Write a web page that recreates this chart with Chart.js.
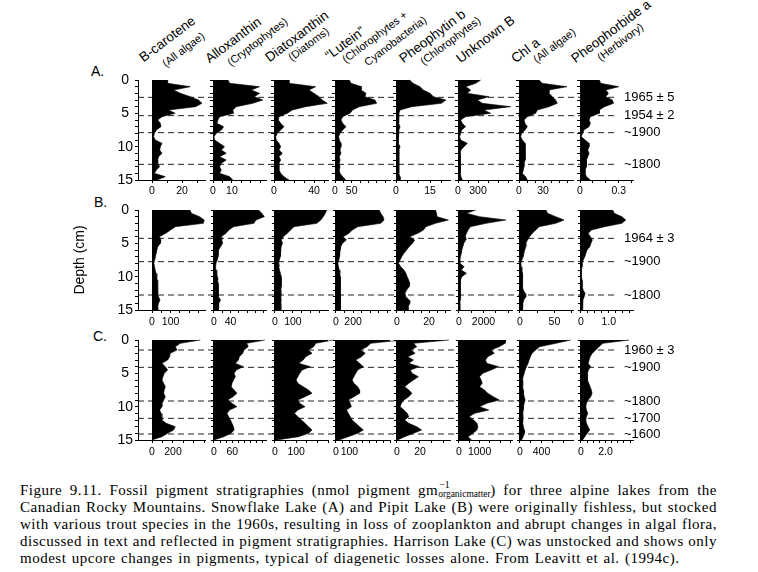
<!DOCTYPE html>
<html>
<head>
<meta charset="utf-8">
<script src="https://cdn.jsdelivr.net/npm/chart.js@4.4.1/dist/chart.umd.min.js"></script>
<style>
body { margin: 0; background: #fff; width: 758px; height: 572px; overflow: hidden; position: relative; font-family: "Liberation Sans", Arial, sans-serif; }
canvas { position: absolute; }
.lbl { position: absolute; white-space: nowrap; line-height: 1; color: #000; }
.rot { transform-origin: 0 100%; transform: rotate(-37deg); }
#caption { position: absolute; left: 20px; top: 482px; width: 697px; font-family: "Liberation Serif", "Times New Roman", serif; font-size: 15px; letter-spacing: 0.5px; line-height: 17px; color: #000; }
#caption div { height: 17px; text-align: justify; text-align-last: justify; white-space: nowrap; }
#caption div.last { text-align-last: left; word-spacing: 1.2px; }
.ss { position: relative; display: inline-block; width: 52px; height: 10px; letter-spacing: 0; }
.ss .sup { position: absolute; left: 1px; top: -5px; font-size: 10px; line-height: 1; }
.ss .sub { position: absolute; left: 0; top: 5px; font-size: 9.5px; line-height: 1; }
</style>
</head>
<body>
<div id="caption">
<div>Figure 9.11. Fossil pigment stratigraphies (nmol pigment gm<span class="ss"><span class="sup">&minus;1</span><span class="sub">organicmatter</span></span>) for three alpine lakes from the</div>
<div>Canadian Rocky Mountains. Snowflake Lake (A) and Pipit Lake (B) were originally fishless, but stocked</div>
<div>with various trout species in the 1960s, resulting in loss of zooplankton and abrupt changes in algal flora,</div>
<div>discussed in text and reflected in pigment stratigraphies. Harrison Lake (C) was unstocked and shows only</div>
<div class="last">modest upcore changes in pigments, typical of diagenetic losses alone. From Leavitt et al. (1994c).</div>
</div>
<script>
// depth (cm) of every sample
const depth = [0, 0.5, 1, 1.5, 2, 2.5, 3, 3.5, 4, 4.5, 5, 5.5, 6, 6.5, 7, 7.5, 8, 8.5, 9, 9.5, 10, 10.5, 11, 11.5, 12, 12.5, 13, 13.5, 14, 14.5, 15];

const pigments = ["B-carotene", "Alloxanthin", "Diatoxanthin", "\u201cLutein\u201d", "Pheophytin b", "Unknown B", "Chl a", "Pheophorbide a"];
const groups = ["(All algae)", "(Cryptophytes)", "(Diatoms)", "(Chlorophytes +", "(Chlorophytes)", "", "(All algae)", "(Herbivory)"];
const groups2 = ["", "", "", "Cyanobacteria)", "", "", "", ""];
const rowNames = ["A.", "B.", "C."];

// A - Snowflake Lake
const aCarotene = [10, 10.4, 25.5, 14.4, 18.9, 25.5, 31, 33.3, 29, 11, 15.5, 6.7, 3.8, 5.6, 6, 2.9, 1.6, 1.1, 2.2, 6.7, 5.6, 5.1, 6.7, 4.4, 3.8, 3.8, 5.1, 2.9, 1.6, 8.9, 3.3];
const aAllox = [7.9, 8.8, 24.6, 20.2, 24.6, 21.9, 26.3, 21, 12.3, 10.5, 10.9, 3.5, 2.6, 2.1, 5.6, 4.4, 1.8, 0.5, 0.9, 3.5, 6.1, 4.4, 7, 3.5, 7, 4.4, 3.5, 4.4, 3.5, 8.8, 10.5];
const aDiato = [15, 15, 41.7, 35, 40, 45, 48.3, 53.3, 31.7, 18.3, 13.3, 5, 4.3, 6.7, 10, 6.7, 3.3, 1.7, 2.3, 5, 6.7, 5, 8.3, 5, 6.7, 5, 5, 5, 6.7, 10, 15];
const aLutein = [43, 48, 80, 78, 93, 90, 120, 125, 73, 53, 45, 23, 18, 23, 33, 23, 15, 11, 13, 18, 18, 15, 18, 13, 15, 13, 15, 13, 15, 23, 33];
const aPheob = [6, 7.5, 10.6, 12, 15, 16.5, 22, 20, 7, 1.8, 1.3, 0.9, 1.3, 1.3, 1.8, 1.3, 0.9, 0.9, 0.9, 1.3, 1.8, 1.3, 1.3, 0.9, 1.3, 1.3, 1.3, 1.3, 1.3, 1.8, 1.8];
const aUnknown = [340, 265, 115, 190, 140, 465, 290, 365, 790, 390, 490, 115, 40, 65, 115, 55, 40, 25, 40, 140, 90, 45, 35, 40, 35, 40, 35, 30, 30, 45, 65];
const aChla = [25, 29, 60, 37.5, 37.5, 41.7, 45.8, 47.9, 37.5, 22.9, 20.8, 10.4, 6.3, 7.5, 10.4, 7.5, 3.3, 2.1, 4.2, 7.5, 8.3, 7.5, 8.3, 7.5, 7.5, 6.3, 6.3, 5.4, 4.2, 8.3, 10.4];
const aPheoa = [0.15, 0.16, 0.30, 0.20, 0.22, 0.20, 0.25, 0.26, 0.19, 0.15, 0.15, 0.08, 0.07, 0.08, 0.07, 0.03, 0.02, 0.01, 0.04, 0.07, 0.07, 0.06, 0.07, 0.06, 0.05, 0.05, 0.05, 0.04, 0.04, 0.05, 0.08];

// B - Pipit Lake
const bCarotene = [204, 212, 256, 281, 276, 126, 100, 74, 40, 48, 45, 31, 26, 22, 19, 14, 10, 14, 17, 22, 26, 28, 31, 31, 31, 31, 35, 43, 35, 31, 31];
const bAllox = [107, 115, 121, 101, 96, 47, 36, 29, 17, 19, 21, 16, 11, 10, 10, 8, 5, 4, 5, 7, 8, 9, 10, 10, 10, 11, 12, 16, 12, 11, 11];
const bDiato = [288, 280, 269, 255, 233, 106, 87, 69, 47, 36, 42, 35, 33, 31, 29, 25, 20, 22, 25, 31, 35, 36, 36, 35, 33, 33, 33, 35, 33, 33, 33];
const bLutein = [503, 522, 549, 560, 522, 255, 190, 152, 84, 122, 76, 57, 50, 46, 42, 34, 23, 30, 38, 46, 50, 53, 53, 53, 53, 53, 53, 57, 53, 53, 53];
const bPheob = [24, 24.6, 25, 32, 24, 18, 16.5, 13, 8, 11, 9.7, 7.6, 6, 4.4, 3, 2, 1, 2.4, 4.4, 5.6, 6.4, 7.3, 8, 7.6, 6, 5, 5.6, 7.6, 8, 7, 7];
const bUnknown = [1360, 613, 1680, 3814, 2213, 933, 747, 613, 507, 560, 400, 320, 240, 187, 133, 80, 80, 427, 187, 613, 240, 133, 107, 107, 107, 133, 107, 107, 80, 80, 80];
const bChla = [38, 40, 52, 64, 52, 28, 23, 18, 14, 11, 8.6, 8.6, 7, 5.7, 4.8, 2.9, 1.4, 1.9, 2.9, 3.8, 3.8, 3.8, 3.8, 3.8, 4.8, 7.6, 8.6, 5.7, 4.3, 3.8, 3.8];
const bPheoa = [1.14, 1.2, 1.47, 1.61, 1.47, 0.85, 0.38, 0.26, 0.34, 0.41, 0.36, 0.32, 0.22, 0.18, 0.14, 0.08, 0.05, 0.04, 0.02, 0.02, 0.02, 0.04, 0.04, 0.05, 0.08, 0.15, 0.12, 0.07, 0.06, 0.06, 0.06];

// C - Harrison Lake
const cCarotene = [460, 270, 222, 238, 174, 168, 149, 95, 127, 149, 117, 105, 95, 111, 127, 117, 111, 127, 111, 95, 95, 73, 86, 95, 95, 136, 222, 206, 149, 95, 0];
const cAllox = [166, 107, 112, 98, 94, 83, 80, 70, 96, 73, 66, 70, 64, 59, 56, 66, 75, 62, 45, 59, 75, 51, 43, 48, 54, 59, 64, 66, 56, 32, 0];
const cDiato = [275, 192, 183, 158, 175, 145, 133, 112, 167, 128, 117, 108, 100, 108, 133, 158, 175, 142, 108, 117, 142, 108, 92, 108, 125, 142, 158, 175, 158, 112, 8];
const cLutein = [495, 258, 231, 181, 217, 189, 147, 175, 203, 161, 147, 133, 120, 133, 161, 175, 175, 133, 92, 106, 114, 78, 92, 106, 120, 147, 175, 203, 161, 92, 22];
const cPheob = [45, 14.4, 17.2, 12.2, 15.8, 9.4, 14.4, 10.3, 19.4, 11.7, 13, 18.6, 14.4, 10.3, 6.7, 10.3, 13, 10.3, 6.1, 3.9, 2.8, 6.1, 8.9, 10.3, 6.7, 10.3, 17.2, 21.4, 14.4, 6.7, 0.5];
const cUnknown = [2270, 2238, 1952, 1555, 1714, 1397, 1285, 1349, 1920, 1555, 1158, 1000, 1079, 1127, 1000, 1238, 1397, 1666, 1952, 1349, 1000, 1444, 762, 492, 714, 873, 920, 873, 682, 444, 603];
const cChla = [939, 667, 364, 291, 224, 194, 170, 152, 121, 97, 79, 61, 48, 48, 55, 61, 67, 79, 97, 79, 67, 61, 55, 48, 48, 55, 67, 79, 85, 61, 30];
const cPheoa = [3.92, 1.79, 1.47, 1.2, 0.93, 0.75, 0.67, 0.59, 0.8, 0.61, 0.53, 0.51, 0.56, 0.64, 0.75, 0.85, 0.91, 0.8, 0.59, 0.45, 0.4, 0.45, 0.56, 0.45, 0.4, 0.45, 0.59, 0.72, 0.51, 0.32, 0.13];

// axis ranges and tick labels of each panel
const aMax = [35.3, 28, 54, 165, 23.8, 810, 67.5, 0.41];
const bMax = [285, 125, 295, 629, 33, 4320, 77, 1.87];
const cMax = [505, 170, 250, 400, 46, 2571, 982, 4.24];
const aTicks = [[0, 20], [0, 10], [0, 40], [0, 50], [0, 15], [0, 300], [0, 30], [0, 0.3]];
const bTicks = [[0, 100], [0, 40], [0, 100], [0, 200], [0, 20], [0, 2000], [0, 50], [0, 1]];
const cTicks = [[0, 200], [0, 60], [0, 100], [0, 100], [0, 20], [0, 1000], [0, 400], [0, 2]];
const aStep = [10, 5, 10, 25, 5, 150, 10, 0.1];
const bStep = [50, 20, 50, 100, 5, 1000, 25, 0.25];
const cStep = [100, 20, 50, 50, 10, 500, 200, 0.5];

// dated horizons
const aDates = [2.6, 5.35, 7.9, 12.65];
const aDateLabels = ["1965 \u00b1 5", "1954 \u00b1 2", "~1900", "~1800"];
const bDates = [4.25, 7.75, 12.75];
const bDateLabels = ["1964 \u00b1 3", "~1900", "~1800"];
const cDates = [1.5, 4.1, 9.15, 11.75, 14.1];
const cDateLabels = ["1960 \u00b1 3", "~1900", "~1800", "~1700", "~1600"];

const depthTicks = [0, 1, 2, 3, 4, 5, 6, 7, 8, 9, 10, 11, 12, 13, 14, 15];

// layout
const panelLeft = [138, 213, 274, 335, 396, 458, 519, 580];
const panelRight = [205, 266, 328, 390, 450, 512, 573, 633];
const firstBase = 152;
const lineEnd = 614;
const headX = [145, 211, 271, 331, 405, 462, 517, 577];
const headY = [64, 65, 64, 62, 65, 65, 65, 65];
const subX = [167, 232, 293, 347, 425, 0, 538, 602];
const subY = [69, 68, 63, 65, 67, 0, 65, 63];

Chart.defaults.font.family = '"Liberation Sans", Arial, sans-serif';
Chart.defaults.color = '#000';

const rows = [
  { top: 80, series: [aCarotene, aAllox, aDiato, aLutein, aPheob, aUnknown, aChla, aPheoa], max: aMax, ticks: aTicks, step: aStep, dates: aDates, dateLabels: aDateLabels, pad: 2, letterX: 91, letterY: 78 },
  { top: 210, series: [bCarotene, bAllox, bDiato, bLutein, bPheob, bUnknown, bChla, bPheoa], max: bMax, ticks: bTicks, step: bStep, dates: bDates, dateLabels: bDateLabels, pad: 3, letterX: 94, letterY: 209 },
  { top: 340, series: [cCarotene, cAllox, cDiato, cLutein, cPheob, cUnknown, cChla, cPheoa], max: cMax, ticks: cTicks, step: cStep, dates: cDates, dateLabels: cDateLabels, pad: 3, letterX: 93, letterY: 343 }
];

function fmt(v, max) {
  if (v === 0) return '0';
  return max < 5 ? v.toFixed(1) : String(v);
}

function addText(text, x, y, size, rotate) {
  const s = document.createElement('div');
  s.className = 'lbl' + (rotate ? ' rot' : '');
  s.textContent = text;
  s.style.fontSize = size + 'px';
  s.style.left = x + 'px';
  s.style.top = (y - size) + 'px';
  document.body.appendChild(s);
}

function makeCanvas(left, top, w, h, z) {
  const cv = document.createElement('canvas');
  cv.width = w;
  cv.height = h;
  cv.style.left = left + 'px';
  cv.style.top = top + 'px';
  cv.style.zIndex = z;
  document.body.appendChild(cv);
  return cv;
}

function rowChart(row, r) {
  const cv = makeCanvas(panelLeft[0] - 70, row.top - 20, 70 + (lineEnd - panelLeft[0]) + 80, 140, 1);
  new Chart(cv, {
    type: 'scatter',
    data: {
      datasets: row.dates.map(d => ({
        data: [{ x: 0, y: d }, { x: 1, y: d }],
        showLine: true,
        borderColor: '#222',
        borderWidth: 1,
        borderDash: [6, 4],
        pointRadius: 0
      }))
    },
    options: {
      responsive: false,
      animation: false,
      devicePixelRatio: 1,
      layout: { padding: { top: 20, bottom: 20, left: 0, right: 0 } },
      plugins: { legend: { display: false }, tooltip: { enabled: false } },
      scales: {
        x: { type: 'linear', min: 0, max: 1, display: false },
        y: {
          type: 'linear', position: 'left', min: 0, max: 15, reverse: true,
          afterFit: s => { s.width = 70; },
          afterBuildTicks: s => { s.ticks = depthTicks.map(v => ({ value: v })); },
          ticks: { autoSkip: false, padding: 2, crossAlign: 'center', font: { size: 14 }, callback: v => (v % 5 === 0 ? String(v) : '') },
          grid: { drawOnChartArea: false, tickLength: 3, color: '#000' },
          border: { color: '#000' },
          title: { display: r === 1, text: 'Depth (cm)', font: { size: 14 } }
        },
        y2: {
          type: 'linear', position: 'right', min: 0, max: 15, reverse: true,
          afterFit: s => { s.width = 80; },
          afterBuildTicks: s => { s.ticks = row.dates.map(v => ({ value: v })); },
          ticks: { autoSkip: false, padding: 10, font: { size: 13 }, callback: (v, k) => row.dateLabels[k] },
          grid: { display: false, drawTicks: false },
          border: { display: false }
        }
      }
    }
  });
}

function profileChart(row, i) {
  const left = panelLeft[i];
  const right = panelRight[i];
  const max = row.max[i];
  const min = i === 0 ? -max * (firstBase - left) / (right - firstBase) : 0;
  const vals = [];
  for (let v = 0; v <= max + 1e-9; v += row.step[i]) vals.push(+v.toFixed(4));
  const cv = makeCanvas(left - 5, row.top - 5, right - left + 13, 127, 2);
  new Chart(cv, {
    type: 'line',
    data: {
      datasets: [{
        data: depth.map((d, k) => ({ x: row.series[i][k], y: d })),
        fill: 'origin',
        backgroundColor: '#000',
        borderColor: '#000',
        borderWidth: 0.6,
        pointRadius: 0,
        tension: 0,
        clip: 8
      }]
    },
    options: {
      indexAxis: 'y',
      responsive: false,
      animation: false,
      devicePixelRatio: 1,
      layout: { padding: { top: 5, right: 8, left: 0, bottom: 0 } },
      plugins: { legend: { display: false }, tooltip: { enabled: false } },
      scales: {
        y: {
          type: 'linear', min: 0, max: 15, reverse: true,
          afterFit: s => { s.width = 5; },
          ticks: { display: false, stepSize: 1 },
          grid: { drawOnChartArea: false, tickLength: 3, color: '#000' },
          border: { color: '#000' }
        },
        x: {
          type: 'linear', min: min, max: max,
          afterFit: s => { s.height = 22; },
          afterBuildTicks: s => { s.ticks = vals.map(v => ({ value: v })); },
          ticks: { autoSkip: false, maxRotation: 0, padding: row.pad, font: { size: 10.5 }, callback: v => (row.ticks[i].includes(v) ? fmt(v, max) : '') },
          grid: { drawOnChartArea: false, tickLength: 3, color: '#000' },
          border: { color: '#000' }
        }
      }
    }
  });
}

rows.forEach((row, r) => {
  rowChart(row, r);
  for (let i = 0; i < 8; i++) profileChart(row, i);
  addText(rowNames[r], row.letterX, row.letterY, 14, false);
});

for (let i = 0; i < 8; i++) {
  addText(pigments[i], headX[i], headY[i], 13.5, true);
  if (groups[i]) addText(groups[i], subX[i], subY[i], 11, true);
}
addText(groups2[3], 369, 68, 11, true);
</script>
</body>
</html>
